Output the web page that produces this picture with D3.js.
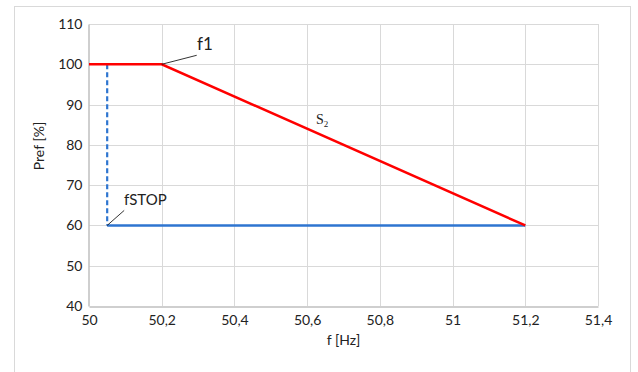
<!DOCTYPE html>
<html>
<head>
<meta charset="utf-8">
<script src="https://cdn.jsdelivr.net/npm/d3@7/dist/d3.min.js"></script>
<style>
  body { margin: 0; background: #fff; }
  text { font-family: Lato, "Liberation Sans", sans-serif; fill: #222; }
</style>
</head>
<body>
<div id="chart"></div>
<script>
// Pref vs frequency curve

const xTicks = [50, 50.2, 50.4, 50.6, 50.8, 51, 51.2, 51.4];
const yTicks = [40, 50, 60, 70, 80, 90, 100, 110];

// red curve: f1 then slope s2
const redF = [50, 50.2, 51.2];
const redP = [100, 100, 60];
// fSTOP drop (dashed) and hold line
const dashF = [50.05, 50.05];
const dashP = [100, 60];
const blueF = [50.05, 51.2];
const blueP = [60, 60];

const width = 638, height = 372;
const margin = {left: 89, right: 40, top: 24, bottom: 66};

const svg = d3.select("#chart")
  .append("svg")
  .attr("width", width)
  .attr("height", height);

// outer chart border
svg.append("rect")
  .attr("x", 14.5).attr("y", 6.5)
  .attr("width", 616).attr("height", 380)
  .attr("fill", "none")
  .attr("stroke", "#d9d9d9");

const x = d3.scaleLinear([50, 51.4], [margin.left, width - margin.right]);
const y = d3.scaleLinear([40, 110], [height - margin.bottom, margin.top]);

// gridlines
svg.append("g")
  .attr("stroke", "#d9d9d9")
  .selectAll("line.v")
  .data(xTicks.slice(1))
  .join("line")
    .attr("x1", d => Math.round(x(d)) + 0.5).attr("x2", d => Math.round(x(d)) + 0.5)
    .attr("y1", y(110)).attr("y2", y(40));

svg.append("g")
  .attr("stroke", "#d9d9d9")
  .selectAll("line.h")
  .data(yTicks.slice(1))
  .join("line")
    .attr("x1", x(50)).attr("x2", x(51.4))
    .attr("y1", d => Math.round(y(d)) + 0.5).attr("y2", d => Math.round(y(d)) + 0.5);

// axes
const xAxis = svg.append("g")
  .attr("transform", `translate(0,${Math.round(y(40)) + 0.5})`)
  .call(d3.axisBottom(x).tickValues(xTicks).tickSize(0).tickPadding(9)
    .tickFormat(d => String(+d.toFixed(1)).replace(".", ",")));
xAxis.select(".domain").attr("stroke", "#bfbfbf").attr("stroke-width", 1.5);
xAxis.selectAll("text").style("font-size", "14px").attr("fill", "#222");

const yAxis = svg.append("g")
  .attr("transform", `translate(${Math.round(x(50)) - 0.5},0)`)
  .call(d3.axisLeft(y).tickValues(yTicks).tickSize(0).tickPadding(6));
yAxis.select(".domain").attr("stroke", "#bfbfbf").attr("stroke-width", 1.5);
yAxis.selectAll("text").style("font-size", "14px").attr("fill", "#222");

// axis titles
svg.append("text")
  .attr("x", (x(50) + x(51.4)) / 2)
  .attr("y", 345)
  .attr("text-anchor", "middle")
  .style("font-size", "14px")
  .text("f [Hz]");

svg.append("text")
  .attr("transform", "translate(44,146) rotate(-90)")
  .attr("text-anchor", "middle")
  .style("font-size", "14px")
  .text("Pref [%]");

const line = d3.line().x(d => x(d[0])).y(d => y(d[1]));

svg.append("path")
  .datum(d3.zip(dashF, dashP))
  .attr("fill", "none")
  .attr("stroke", "#2e75d0")
  .attr("stroke-width", 2.2)
  .attr("stroke-dasharray", "5,3")
  .attr("d", line);

svg.append("path")
  .datum(d3.zip(blueF, blueP))
  .attr("fill", "none")
  .attr("stroke", "#2e75d0")
  .attr("stroke-width", 2.5)
  .attr("d", line);

svg.append("path")
  .datum(d3.zip(redF, redP))
  .attr("fill", "none")
  .attr("stroke", "#ff0000")
  .attr("stroke-width", 2.5)
  .attr("d", line);

// annotations
svg.append("line")
  .attr("x1", x(50.2)).attr("y1", y(100))
  .attr("x2", x(50.2) + 35).attr("y2", y(100) - 9)
  .attr("stroke", "#000").attr("stroke-width", 0.8);
svg.append("text")
  .attr("x", 197).attr("y", 50)
  .style("font-size", "17px")
  .text("f1");

svg.append("line")
  .attr("x1", x(50.05)).attr("y1", y(60))
  .attr("x2", x(50.05) + 17).attr("y2", y(60) - 15)
  .attr("stroke", "#000").attr("stroke-width", 0.8);
svg.append("text")
  .attr("x", 124).attr("y", 205)
  .style("font-size", "15px")
  .text("fSTOP");

const s2 = svg.append("text")
  .attr("x", 316).attr("y", 124)
  .style("font-family", "'Liberation Serif', serif")
  .style("font-size", "14px");
s2.append("tspan").text("S");
s2.append("tspan").attr("dy", 3).style("font-size", "9px").text("2");
</script>
</body>
</html>
